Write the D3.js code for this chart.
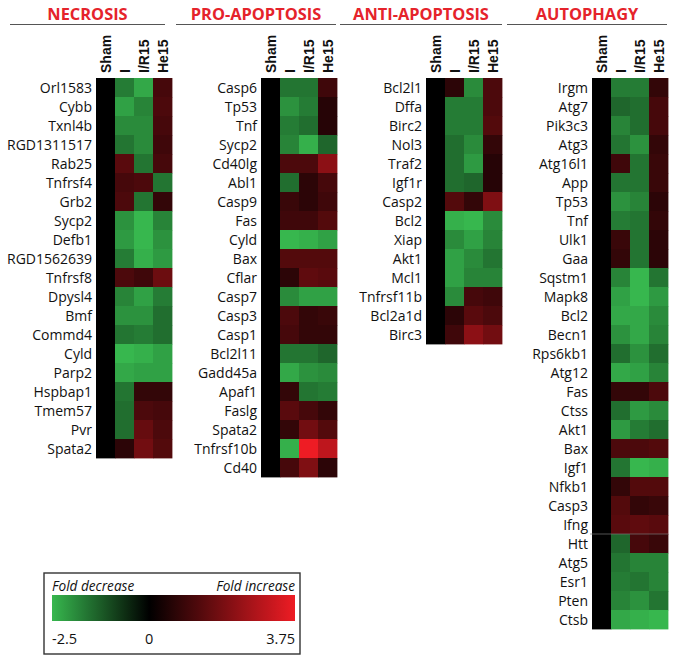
<!DOCTYPE html>
<html><head><meta charset="utf-8">
<script src="https://cdn.jsdelivr.net/npm/d3@7"></script>
<style>body{margin:0;background:#fff}</style>
</head><body><svg id="c" width="688" height="665"></svg>
<script>
const conditions = ["Sham","I","I/R15","He15"];
const panelTitles = ["NECROSIS","PRO-APOPTOSIS","ANTI-APOPTOSIS","AUTOPHAGY"];

const necrosisGenes = ["Orl1583","Cybb","Txnl4b","RGD1311517","Rab25","Tnfrsf4","Grb2","Sycp2","Defb1","RGD1562639","Tnfrsf8","Dpysl4","Bmf","Commd4","Cyld","Parp2","Hspbap1","Tmem57","Pvr","Spata2"];
const necrosisValues = [
 [0,-1.7,-2.3,1.1],[0,-2.2,-1.8,1.2],[0,-1.9,-1.9,1.1],[0,-1.6,-1.9,1.0],[0,1.4,-1.6,1.1],
 [0,1.1,1.2,-1.6],[0,1.2,-1.6,0.8],[0,-2.0,-2.5,-1.8],[0,-2.1,-2.5,-2.0],[0,-1.7,-2.4,-2.1],
 [0,1.2,1.0,1.7],[0,-1.8,-2.2,-1.7],[0,-2.0,-2.0,-1.5],[0,-1.6,-1.7,-1.5],[0,-2.5,-2.4,-2.2],
 [0,-2.3,-2.2,-2.2],[0,-1.6,0.8,0.8],[0,-1.5,1.2,1.1],[0,-1.5,1.6,1.2],[0,0.7,1.8,1.3]
];

const proApoptosisGenes = ["Casp6","Tp53","Tnf","Sycp2","Cd40lg","Abl1","Casp9","Fas","Cyld","Bax","Cflar","Casp7","Casp3","Casp1","Bcl2l11","Gadd45a","Apaf1","Faslg","Spata2","Tnfrsf10b","Cd40"];
const proApoptosisValues = [
 [0,-1.6,-1.6,1.0],[0,-2.0,-1.7,0.6],[0,-1.7,-1.5,0.6],[0,-1.8,-2.4,-1.4],[0,1.2,1.2,2.2],
 [0,-1.5,0.7,1.1],[0,0.9,0.7,1.0],[0,1.0,1.0,1.3],[0,-2.5,-2.4,-2.2],[0,1.3,1.3,1.3],
 [0,0.7,1.5,1.4],[0,-1.9,-2.2,-2.2],[0,1.2,0.8,0.9],[0,1.1,0.8,0.8],[0,-1.6,-1.6,-1.4],
 [0,-2.3,-2.0,-1.9],[0,0.8,-1.6,-1.7],[0,1.4,1.1,0.8],[0,0.8,1.8,1.3],[0,-2.4,3.75,3.0],
 [0,1.1,2.0,0.7]
];

const antiApoptosisGenes = ["Bcl2l1","Dffa","Birc2","Nol3","Traf2","Igf1r","Casp2","Bcl2","Xiap","Akt1","Mcl1","Tnfrsf11b","Bcl2a1d","Birc3"];
const antiApoptosisValues = [
 [0,0.7,-1.9,1.2],[0,-1.7,-1.7,1.2],[0,-1.7,-1.7,1.3],[0,-1.5,-1.9,0.8],[0,-1.5,-2.1,0.6],
 [0,-1.5,-1.4,0.6],[0,1.3,0.8,2.0],[0,-2.4,-2.5,-1.9],[0,-1.9,-2.2,-1.8],[0,-2.2,-1.9,-1.6],
 [0,-2.2,-1.8,-1.8],[0,-1.9,1.1,1.0],[0,0.7,1.4,1.2],[0,1.0,2.2,1.8]
];

const autophagyGenes = ["Irgm","Atg7","Pik3c3","Atg3","Atg16l1","App","Tp53","Tnf","Ulk1","Gaa","Sqstm1","Mapk8","Bcl2","Becn1","Rps6kb1","Atg12","Fas","Ctss","Akt1","Bax","Igf1","Nfkb1","Casp3","Ifng","Htt","Atg5","Esr1","Pten","Ctsb"];
const autophagyValues = [
 [0,-1.7,-1.7,0.8],[0,-1.4,-1.5,1.1],[0,-1.8,-1.5,1.1],[0,-1.6,-2.0,0.8],[0,1.0,-1.6,0.9],
 [0,-1.6,-1.6,0.9],[0,-2.0,-1.8,0.7],[0,-1.7,-1.6,0.8],[0,0.9,-1.6,0.7],[0,0.8,-1.6,0.7],
 [0,-1.8,-2.5,-1.6],[0,-2.2,-2.5,-2.1],[0,-2.3,-2.3,-1.9],[0,-2.0,-2.3,-1.8],[0,-1.5,-2.0,-1.5],
 [0,-2.3,-2.2,-1.8],[0,0.8,0.8,1.2],[0,-1.5,-2.1,-1.9],[0,-2.1,-1.7,-1.5],[0,1.2,1.2,1.3],
 [0,-1.6,-2.5,-2.4],[0,0.8,1.3,1.3],[0,1.3,0.8,0.9],[0,1.4,1.5,1.4],[0,-1.4,1.1,0.9],
 [0,-1.6,-1.8,-1.8],[0,-1.7,-1.6,-1.8],[0,-1.8,-2.0,-1.6],[0,-2.3,-2.4,-2.5]
];
const autophagyBreaks = ["Htt"];

const legendTicks = [-2.5, 0, 3.75];
const legendLabels = ["Fold decrease","Fold increase"];

// ---- layout ----
const svg = d3.select("#c");
const color = d3.scaleLinear().domain([-2.5,0,3.75])
  .range(["rgb(55,183,78)","rgb(0,0,0)","rgb(238,28,36)"]).clamp(true);

const cell = 19, topY = 78;
const panels = [
  {title: panelTitles[0], genes: necrosisGenes, values: necrosisValues, left: 96, line: [10,165], breaks: []},
  {title: panelTitles[1], genes: proApoptosisGenes, values: proApoptosisValues, left: 261, line: [176,336], breaks: []},
  {title: panelTitles[2], genes: antiApoptosisGenes, values: antiApoptosisValues, left: 426, line: [340,502], breaks: []},
  {title: panelTitles[3], genes: autophagyGenes, values: autophagyValues, left: 592, line: [507,667], breaks: autophagyBreaks}
];

panels.forEach(p => {
  const g = svg.append("g");
  const x = d3.scaleBand().domain(conditions).range([p.left, p.left + cell*conditions.length]);
  const y = d3.scaleBand().domain(p.genes).range([topY, topY + cell*p.genes.length]);

  g.append("line").attr("x1", p.line[0]).attr("x2", p.line[1]).attr("y1", 24.5).attr("y2", 24.5)
    .attr("stroke", "#555").attr("stroke-width", 1);
  g.append("text").attr("x", (p.line[0]+p.line[1])/2).attr("y", 20)
    .attr("text-anchor","middle").attr("font-family","'Open Sans', sans-serif")
    .attr("font-weight","bold").attr("font-size","16.4px").attr("fill","#e5232b").text(p.title);

  const cells = [];
  p.genes.forEach((gene, i) => conditions.forEach((c, j) => cells.push({gene, c, v: p.values[i][j]})));
  g.selectAll("rect.cell").data(cells).join("rect").attr("class","cell")
    .attr("x", d => x(d.c)).attr("y", d => y(d.gene))
    .attr("width", x.bandwidth()+0.4).attr("height", y.bandwidth()+0.4)
    .attr("fill", d => color(d.v));

  p.breaks.forEach(b => {
    g.append("line").attr("x1", p.left - 2).attr("x2", p.left + cell*conditions.length)
      .attr("y1", y(b)).attr("y2", y(b)).attr("stroke", "#777").attr("stroke-width", 0.7);
  });

  g.selectAll("text.row").data(p.genes).join("text").attr("class","row")
    .attr("x", p.left - 4).attr("y", d => y(d) + cell/2).attr("dy","0.37em")
    .attr("text-anchor","end").attr("font-family","'Open Sans', sans-serif")
    .attr("font-size","14px").attr("fill","#111").text(d => d);

  g.selectAll("text.col").data(conditions).join("text").attr("class","col")
    .attr("transform", d => `translate(${x(d) + cell/2 + 5},73) rotate(-90)`)
    .attr("text-anchor","start").attr("font-family","'Liberation Sans', Arial, sans-serif")
    .attr("font-weight","bold").attr("font-size","14px").attr("fill","#111").text(d => d);
});

// ---- legend ----
const lg = svg.append("g");
const lx = d3.scaleLinear().domain([legendTicks[0], legendTicks[legendTicks.length-1]]).range([52, 295]);
const defs = svg.append("defs");
const grad = defs.append("linearGradient").attr("id","lgrad").attr("x1","0%").attr("x2","100%");
d3.range(0, 1.0001, 0.05).forEach(t => {
  const v = lx.invert(52 + t*243);
  grad.append("stop").attr("offset", (t*100)+"%").attr("stop-color", color(v));
});
lg.append("rect").attr("x",44).attr("y",573).attr("width",256).attr("height",81)
  .attr("fill","none").attr("stroke","#333").attr("stroke-width",1.4);
lg.append("rect").attr("x",lx.range()[0]).attr("y",595).attr("width",lx.range()[1]-lx.range()[0]).attr("height",26)
  .attr("fill","url(#lgrad)");
lg.append("text").attr("x",52).attr("y",591).attr("font-family","'Open Sans', sans-serif")
  .attr("font-style","italic").attr("font-size","13.6px").attr("fill","#111").text(legendLabels[0]);
lg.append("text").attr("x",295).attr("y",591).attr("text-anchor","end").attr("font-family","'Open Sans', sans-serif")
  .attr("font-style","italic").attr("font-size","13.6px").attr("fill","#111").text(legendLabels[1]);
lg.selectAll("text.tick").data(legendTicks).join("text").attr("class","tick")
  .attr("x", d => lx(d)).attr("y", 644)
  .attr("text-anchor", (d,i) => i === 0 ? "start" : (i === legendTicks.length-1 ? "end" : "middle"))
  .attr("font-family","'Open Sans', sans-serif").attr("font-size","14.5px").attr("fill","#111")
  .text(d => d);
</script></body></html>
